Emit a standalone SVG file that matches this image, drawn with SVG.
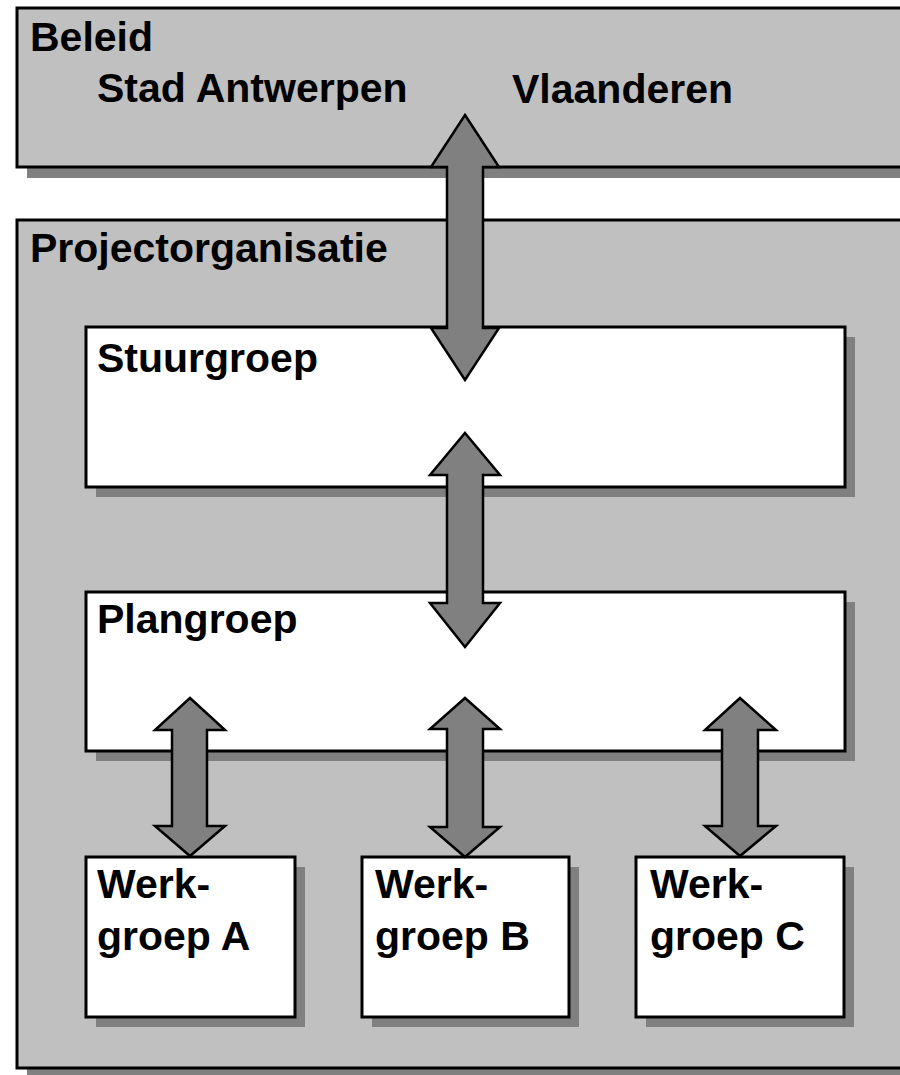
<svg xmlns="http://www.w3.org/2000/svg" width="900" height="1075" viewBox="0 0 900 1075">
<style>
.box{stroke:#000;stroke-width:3}
.gray{fill:#c0c0c0}
.white{fill:#fff}
.sh{fill:#808080}
.t{font-family:"Liberation Sans",Arial,sans-serif;font-weight:bold;font-size:41px;fill:#000}
.arr{fill:#808080;stroke:#000;stroke-width:2.5;stroke-linejoin:miter}
</style>
<rect width="900" height="1075" fill="#fff"/>
<g id="beleid">
<rect class="sh" x="27" y="18" width="890" height="160"/>
<rect class="box gray" x="17" y="8" width="900" height="159"/>
<text class="t" x="30" y="51">Beleid</text>
<text class="t" x="97" y="102">Stad Antwerpen</text>
<text class="t" x="512" y="103">Vlaanderen</text>
</g>
<g id="projectorganisatie">
<rect class="sh" x="27" y="230" width="890" height="850"/>
<rect class="box gray" x="17" y="220" width="900" height="848"/>
<text class="t" x="30" y="262">Projectorganisatie</text>
</g>
<g id="stuurgroep">
<rect class="sh" x="96" y="337" width="759" height="160"/>
<rect class="box white" x="86" y="327" width="759" height="160"/>
<text class="t" x="97" y="372">Stuurgroep</text>
</g>
<g id="plangroep">
<rect class="sh" x="96" y="602" width="759" height="159"/>
<rect class="box white" x="86" y="592" width="759" height="159"/>
<text class="t" x="97" y="633">Plangroep</text>
</g>
<g id="werkgroepA">
<rect class="sh" x="96" y="867" width="209" height="160"/>
<rect class="box white" x="86" y="857" width="209" height="160"/>
<text class="t" x="97" y="898">Werk-</text>
<text class="t" x="97" y="950">groep A</text>
</g>
<g id="werkgroepB">
<rect class="sh" x="372" y="867" width="207" height="160"/>
<rect class="box white" x="362" y="857" width="207" height="160"/>
<text class="t" x="375" y="898">Werk-</text>
<text class="t" x="375" y="950">groep B</text>
</g>
<g id="werkgroepC">
<rect class="sh" x="646" y="867" width="208" height="160"/>
<rect class="box white" x="636" y="857" width="208" height="160"/>
<text class="t" x="650" y="898">Werk-</text>
<text class="t" x="650" y="950">groep C</text>
</g>
<g id="connectors">
<polygon class="arr" points="465,115 499,167 483,167 483,328 499,328 465,380 431,328 447,328 447,167 431,167"/>
<polygon class="arr" points="465,433 500,475 483,475 483,603 500,603 465,647 430,603 447,603 447,475 430,475"/>
<polygon class="arr" points="190,698 225,730 207,730 207,826 225,826 190,856 155,826 172,826 172,730 155,730"/>
<polygon class="arr" points="465,698 500,729 483,729 483,827 500,827 465,857 430,827 447,827 447,729 430,729"/>
<polygon class="arr" points="740,698 776,730 758,730 758,826 776,826 740,856 705,826 722,826 722,730 705,730"/>
</g>
</svg>
